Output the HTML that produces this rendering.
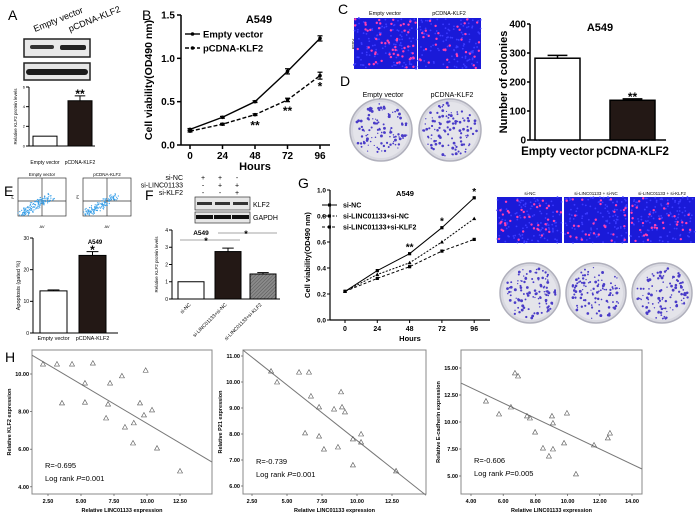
<!DOCTYPE html>
<html><head><meta charset="utf-8"><style>
html,body{margin:0;padding:0;background:#fff;}
svg{display:block;font-family:"Liberation Sans",Arial,sans-serif;}
</style></head><body>
<svg id="fig" width="700" height="516" viewBox="0 0 700 516" xmlns="http://www.w3.org/2000/svg">
<g id="root"></g>
</svg>
<script>
// ---------- DATA ----------
const hoursB = [0, 24, 48, 72, 96];
const emptyVectorB = [0.18, 0.32, 0.50, 0.85, 1.23];
const emptyVectorErrB = [0.01, 0.01, 0.01, 0.03, 0.03];
const pcdnaB = [0.16, 0.24, 0.35, 0.52, 0.80];
const pcdnaErrB = [0.01, 0.01, 0.01, 0.02, 0.04];
const ticksB = [0, 0.5, 1.0, 1.5];
const tickLabelsB = ["0.0", "0.5", "1.0", "1.5"];

const catsA = ["Empty vector", "pCDNA-KLF2"];
const valsA = [1, 4.6];
const errA = [0, 0.5];
const ticksA = [0, 2, 4, 6];

const catsCol = ["Empty vector", "pCDNA-KLF2"];
const valsCol = [282, 137];
const errCol = [10, 5];
const ticksCol = [0, 100, 200, 300, 400];

const catsE = ["Empty vector", "pCDNA-KLF2"];
const valsE = [13.3, 24.5];
const errE = [0.3, 1.2];
const ticksE = [0, 10, 20, 30];

const catsF = ["si-NC", "si-LINC01133+si-NC", "si-LINC01133+si-KLF2"];
const valsF = [1.0, 2.75, 1.45];
const errF = [0, 0.2, 0.08];
const ticksF = [0, 1, 2, 3, 4];

const hoursG = [0, 24, 48, 72, 96];
const siNC_G = [0.22, 0.38, 0.51, 0.71, 0.94];
const lincNC_G = [0.22, 0.35, 0.44, 0.60, 0.78];
const lincKLF2_G = [0.22, 0.32, 0.41, 0.53, 0.62];
const ticksG = [0, 0.2, 0.4, 0.6, 0.8, 1.0];
const tickLabelsG = ["0.0", "0.2", "0.4", "0.6", "0.8", "1.0"];

const h1x = [2.12,3.18,4.32,5.9,5.3,7.2,8.1,9.9,3.56,5.3,7.05,6.9,9.47,9.77,10.38,8.33,9.0,8.94,10.76,12.5];
const h1y = [10.53,10.53,10.53,10.58,9.52,9.52,9.9,10.2,8.46,8.5,8.4,7.66,8.46,7.82,8.09,7.18,7.4,6.33,6.06,4.84];
const h1fit = [11.54, -0.417];
const h1xt = [2.5, 5, 7.5, 10, 12.5];
const h1yt = [4, 6, 8, 10];

const h2x = [3.86,4.29,5.86,6.57,6.71,7.29,8.86,8.36,8.93,9.14,6.29,7.29,7.64,8.64,9.71,10.29,10.29,9.71,12.79];
const h2y = [10.42,10.0,10.38,10.38,9.46,9.04,9.62,8.96,9.04,8.85,8.04,7.92,7.42,7.5,7.81,8.0,7.69,6.81,6.58];
const h2fit = [12.02, -0.427];
const h2xt = [2.5, 5, 7.5, 10, 12.5];
const h2yt = [6, 7, 8, 9, 10, 11];

const h3x = [4.93,5.74,6.48,7.48,7.66,7.98,9.03,9.09,9.96,8.47,9.09,8.84,9.78,10.52,11.64,12.5,12.63,6.73,6.92];
const h3y = [11.94,10.74,11.39,10.56,10.37,9.07,10.56,9.91,10.83,7.59,7.5,6.85,8.06,5.19,7.87,8.52,8.98,14.54,14.26];
const h3fit = [16.0, -0.708];
const h3xt = [4, 6, 8, 10, 12, 14];
const h3yt = [5, 7.5, 10, 12.5, 15];

// ---------- HELPERS ----------
const NS = "http://www.w3.org/2000/svg";
const root = document.getElementById('root');
function mk(tag, attrs, parent) {
  const e = document.createElementNS(NS, tag);
  for (const k in attrs) e.setAttribute(k, attrs[k]);
  (parent || root).appendChild(e);
  return e;
}
function txt(x, y, s, size, opts, parent) {
  const o = opts || {};
  const t = mk('text', {x: x, y: y, 'font-size': size, 'text-anchor': o.anchor || 'start', 'font-weight': o.bold ? 'bold' : 'normal', fill: o.fill || '#000'}, parent);
  if (o.rot) t.setAttribute('transform', 'rotate(' + o.rot + ' ' + x + ' ' + y + ')');
  if (o.italic) t.setAttribute('font-style', 'italic');
  t.textContent = s;
  return t;
}
function grp(name) {
  const g = mk('g', {});
  
  
  return g;
}
let seed = 7;
function prng() { seed = (seed * 16807) % 2147483647; return seed / 2147483647; }

[["A",8,20],["B",142,20],["C",338,14],["D",340,86],["E",4,196],["F",145,200],["G",298,188],["H",5,362]].forEach(p => {
  const t = txt(p[1], p[2], p[0], 14, {});
  
  
});

function barChart(cfg) {
  const g = grp(cfg.name);
  const y = v => cfg.y0 - (v - 0) / cfg.vmax * (cfg.y0 - cfg.ytop);
  mk('line', {x1: cfg.ax, y1: cfg.ytop, x2: cfg.ax, y2: cfg.y0, stroke: '#000', 'stroke-width': cfg.sw}, g);
  mk('line', {x1: cfg.ax, y1: cfg.y0, x2: cfg.axEnd, y2: cfg.y0, stroke: '#000', 'stroke-width': cfg.sw}, g);
  cfg.ticks.forEach(t => {
    mk('line', {x1: cfg.ax - 3, y1: y(t), x2: cfg.ax, y2: y(t), stroke: '#000', 'stroke-width': cfg.sw}, g);
    const l = txt(cfg.ax - 4, y(t) + cfg.fs * 0.35, String(t), cfg.fs, {anchor: 'end', bold: cfg.bold}, g);
    
    
  });
  cfg.vals.forEach((v, i) => {
    const x0 = cfg.bx[i], w = cfg.bw;
    const r = mk('rect', {x: x0, y: y(v), width: w, height: cfg.y0 - y(v), fill: cfg.fills[i], stroke: '#000', 'stroke-width': cfg.sw}, g);
    
    
    const e = cfg.errs[i];
    if (e > 0) {
      const cx = x0 + w / 2;
      mk('line', {x1: cx, y1: y(v), x2: cx, y2: y(v + e), stroke: '#000', 'stroke-width': cfg.sw}, g);
      mk('line', {x1: cx - w * 0.22, y1: y(v + e), x2: cx + w * 0.22, y2: y(v + e), stroke: '#000', 'stroke-width': cfg.sw}, g);
    }
    if (cfg.stars && cfg.stars[i]) {
      const s = txt(x0 + w / 2, y(v + e) - 2 + cfg.starFs * 0.35, cfg.stars[i], cfg.starFs, {anchor: 'middle', bold: true}, g);
      
      
    }
    if (!cfg.rotLabels) {
      const l = txt(x0 + w / 2, cfg.y0 + cfg.labDy, cfg.cats[i], cfg.labFs, {anchor: 'middle', bold: cfg.bold}, g);
      
      
    }
  });
  if (cfg.title) {
    const t = txt(cfg.title[0], cfg.title[1], 'A549', cfg.title[2], {anchor: 'middle', bold: true}, g);
    
    
  }
  if (cfg.ylab) {
    const t = txt(cfg.ylab[0], (cfg.ytop + cfg.y0) / 2, cfg.ylab[1], cfg.ylab[2], {anchor: 'middle', bold: cfg.bold, rot: -90}, g);
    
    
  }
  return {g: g, y: y};
}

// ---------- PANEL A ----------
(function(){
  const g = grp('panel-a-western-blot');
  txt(35, 32, 'Empty vector', 9, {rot: -22}, g);
  txt(70, 32, 'pCDNA-KLF2', 9, {rot: -22}, g);
  mk('rect', {x: 24, y: 39, width: 66, height: 18, fill: '#e9e9e9', stroke: '#222', 'stroke-width': 1.5}, g);
  mk('rect', {x: 30, y: 45, width: 24, height: 4, fill: '#333', rx: 2}, g);
  mk('rect', {x: 60, y: 45, width: 26, height: 5, fill: '#222', rx: 2}, g);
  mk('rect', {x: 24, y: 63, width: 66, height: 17, fill: '#e6e6e6', stroke: '#222', 'stroke-width': 1.5}, g);
  mk('rect', {x: 26, y: 69, width: 62, height: 6, fill: '#1a1a1a', rx: 3}, g);
  barChart({name: 'panel-a-bar-chart', ax: 29, ytop: 87, y0: 146, axEnd: 95, vmax: 6, ticks: ticksA, vals: valsA, errs: errA, cats: catsA,
    bx: [33, 68], bw: 24, fills: ['#fff', '#231815'], sw: 1, fs: 4, labFs: 5, labDy: 18, bold: false, stars: ['', '**'], starFs: 12,
    ylab: [17, 'Relative KLF2 protein levels', 4.5]});
})();

// ---------- PANEL B ----------
(function(){
  const g = grp('panel-b-line-chart');
  const x = h => 190 + h / 24 * 32.5;
  const y = v => 145 - v / 1.5 * 130;
  mk('line', {x1: 181, y1: 15, x2: 181, y2: 145, stroke: '#000', 'stroke-width': 1.5}, g);
  mk('line', {x1: 181, y1: 145, x2: 330, y2: 145, stroke: '#000', 'stroke-width': 1.5}, g);
  ticksB.forEach((t, i) => {
    mk('line', {x1: 177, y1: y(t), x2: 181, y2: y(t), stroke: '#000', 'stroke-width': 1.5}, g);
    const l = txt(175, y(t) + 3.5, tickLabelsB[i], 10, {anchor: 'end', bold: true}, g);
    
    
  });
  hoursB.forEach(h => {
    mk('line', {x1: x(h), y1: 145, x2: x(h), y2: 149, stroke: '#000', 'stroke-width': 1.5}, g);
    const l = txt(x(h), 159, String(h), 10, {anchor: 'middle', bold: true}, g);
    
    
  });
  const xt = txt(255, 170, 'Hours', 11, {anchor: 'middle', bold: true}, g);
  
  
  const yt = txt(152, 80, 'Cell viability(OD490 nm)', 10.5, {anchor: 'middle', bold: true, rot: -90}, g);
  
  
  const tt = txt(259, 23, 'A549', 11, {anchor: 'middle', bold: true}, g);
  
  
  const series = [[emptyVectorB, emptyVectorErrB, '', 'empty-vector'], [pcdnaB, pcdnaErrB, '4,2', 'pcdna-klf2']];
  series.forEach(s => {
    const pts = hoursB.map((h, i) => x(h) + ',' + y(s[0][i])).join(' ');
    const pl = mk('polyline', {points: pts, fill: 'none', stroke: '#000', 'stroke-width': 1.4, 'stroke-dasharray': s[2]}, g);
    
    
    hoursB.forEach((h, i) => {
      const c = mk('circle', {cx: x(h), cy: y(s[0][i]), r: 1.8, fill: '#000'}, g);
      
      
      const e = s[1][i];
      mk('line', {x1: x(h), y1: y(s[0][i] - e), x2: x(h), y2: y(s[0][i] + e), stroke: '#000', 'stroke-width': 1.2}, g);
      mk('line', {x1: x(h) - 2.5, y1: y(s[0][i] + e), x2: x(h) + 2.5, y2: y(s[0][i] + e), stroke: '#000', 'stroke-width': 1.2}, g);
      mk('line', {x1: x(h) - 2.5, y1: y(s[0][i] - e), x2: x(h) + 2.5, y2: y(s[0][i] - e), stroke: '#000', 'stroke-width': 1.2}, g);
    });
  });
  const stars = [['**', 48, 0.35], ['**', 72, 0.52], ['*', 96, 0.80]];
  stars.forEach(s => {
    const t = txt(x(s[1]), y(s[2]) + 15, s[0], 12, {anchor: 'middle', bold: true}, g);
    
    
  });
  const lg = grp('legend-b');
  mk('line', {x1: 185, y1: 34, x2: 200, y2: 34, stroke: '#000', 'stroke-width': 1.4}, lg);
  mk('circle', {cx: 192.5, cy: 34, r: 1.8}, lg);
  txt(203, 37.5, 'Empty vector', 9.5, {bold: true}, lg);
  mk('line', {x1: 185, y1: 48, x2: 200, y2: 48, stroke: '#000', 'stroke-width': 1.4, 'stroke-dasharray': '4,2'}, lg);
  mk('circle', {cx: 192.5, cy: 48, r: 1.8}, lg);
  txt(203, 51.5, 'pCDNA-KLF2', 9.5, {bold: true}, lg);
})();

function fluoro(x0, y0, w, h, n, name) {
  const g = grp(name);
  mk('rect', {x: x0, y: y0, width: w, height: h, fill: '#1a1ad8'}, g);
  for (let i = 0; i < 120; i++) mk('circle', {cx: x0 + prng() * w, cy: y0 + prng() * h, r: 0.9, fill: '#3c3cff'}, g);
  for (let i = 0; i < n; i++) mk('circle', {cx: x0 + 1 + prng() * (w - 2), cy: y0 + 1 + prng() * (h - 2), r: 1.2, fill: '#ff3fb0'}, g);
}
function dish(cx, cy, r, name) {
  const g = grp(name);
  mk('circle', {cx: cx, cy: cy, r: r, fill: '#d8d8e0', stroke: '#b0b0bc', 'stroke-width': 1.5}, g);
  mk('circle', {cx: cx, cy: cy, r: r - 3, fill: '#e4e4ea'}, g);
  for (let i = 0; i < 110; i++) {
    const a = prng() * 6.283, d = Math.sqrt(prng()) * (r - 4);
    mk('circle', {cx: cx + Math.cos(a) * d, cy: cy + Math.sin(a) * d, r: 0.6 + prng() * 0.9, fill: '#4a3cc8'}, g);
  }
}
txt(385, 15, 'Empty vector', 5.5, {anchor: 'middle'});
txt(449, 15, 'pCDNA-KLF2', 5.5, {anchor: 'middle'});
txt(352, 44, 'A549', 4.5, {anchor: 'middle', rot: 90});
fluoro(354, 18, 63, 51, 60, 'edu-image-empty-vector');
fluoro(418, 18, 63, 51, 35, 'edu-image-pcdna-klf2');
txt(383, 97, 'Empty vector', 7, {anchor: 'middle'});
txt(452, 97, 'pCDNA-KLF2', 7, {anchor: 'middle'});
dish(381, 130, 31, 'colony-dish-empty-vector');
dish(450, 130, 31, 'colony-dish-pcdna-klf2');

barChart({name: 'colony-count-bar-chart', ax: 530, ytop: 24, y0: 140, axEnd: 666, vmax: 400, ticks: ticksCol, vals: valsCol, errs: errCol, cats: catsCol,
  bx: [535, 610], bw: 45, fills: ['#fff', '#231815'], sw: 1.5, fs: 10, labFs: 11.5, labDy: 15, bold: true, stars: ['', '**'], starFs: 12,
  title: [600, 31, 11], ylab: [507, 'Number of colonies', 11]});

// ---------- PANEL E ----------
(function(){
  ['Empty vector', 'pCDNA-KLF2'].forEach((lab, k) => {
    const g = grp('flow-plot-' + (k ? 'pcdna-klf2' : 'empty-vector'));
    const x0 = k ? 83 : 18;
    txt(x0 + 24, 176, lab, 4.5, {anchor: 'middle'}, g);
    mk('rect', {x: x0, y: 178, width: 48, height: 38, fill: '#fff', stroke: '#333', 'stroke-width': 0.7}, g);
    mk('line', {x1: x0 + 24, y1: 178, x2: x0 + 24, y2: 216, stroke: '#333', 'stroke-width': 0.7}, g);
    mk('line', {x1: x0, y1: 201, x2: x0 + 48, y2: 201, stroke: '#333', 'stroke-width': 0.7}, g);
    for (let i = 0; i < 160; i++) {
      const t = prng();
      const px = x0 + 3 + t * 30 + (prng() - 0.5) * 8;
      const py = 214 - t * 18 + (prng() - 0.5) * 7;
      mk('circle', {cx: px, cy: Math.min(215, py), r: 0.6, fill: '#3aa0e8'}, g);
    }
    txt(x0 + 24, 228, 'AV', 4, {anchor: 'middle'}, g);
    txt(x0 - 4, 197, 'PI', 4, {anchor: 'middle', rot: -90}, g);
  });
  barChart({name: 'panel-e-apoptosis-bar-chart', ax: 33, ytop: 238, y0: 333, axEnd: 118, vmax: 30, ticks: ticksE, vals: valsE, errs: errE, cats: catsE,
    bx: [40, 79], bw: 27, fills: ['#fff', '#231815'], sw: 1, fs: 5, labFs: 5.5, labDy: 7, bold: false, stars: ['', '*'], starFs: 12,
    title: [95, 244, 6], ylab: [20, 'Apoptosis (gated %)', 5.5]});
})();

// ---------- PANEL F ----------
(function(){
  const g = grp('panel-f-blot');
  const rows = [['si-NC', ['+', '+', '-']], ['si-LINC01133', ['-', '+', '+']], ['si-KLF2', ['-', '-', '+']]];
  rows.forEach((r, i) => {
    txt(183, 180 + i * 7.5, r[0], 7, {anchor: 'end'}, g);
    r[1].forEach((s, j) => txt(203 + j * 17, 180 + i * 7.5, s, 7, {anchor: 'middle'}, g));
  });
  mk('rect', {x: 195, y: 197, width: 55, height: 13, fill: '#e6e6e6', stroke: '#333', 'stroke-width': 0.7}, g);
  for (let j = 0; j < 3; j++) mk('rect', {x: 197 + j * 18, y: 202, width: 15, height: 3, fill: '#333'}, g);
  mk('rect', {x: 195, y: 212, width: 55, height: 11, fill: '#e6e6e6', stroke: '#333', 'stroke-width': 0.7}, g);
  for (let j = 0; j < 3; j++) mk('rect', {x: 196 + j * 18, y: 215, width: 17, height: 4, fill: '#111'}, g);
  txt(253, 207, 'KLF2', 7, {}, g);
  txt(253, 220, 'GAPDH', 7, {}, g);
  const defs = mk('defs', {});
  const pat = mk('pattern', {id: 'hatch', width: 2.5, height: 2.5, patternUnits: 'userSpaceOnUse', patternTransform: 'rotate(45)'}, defs);
  mk('rect', {width: 2.5, height: 2.5, fill: '#8a8a8a'}, pat);
  mk('line', {x1: 0, y1: 0, x2: 0, y2: 2.5, stroke: '#555', 'stroke-width': 1}, pat);
  const c = barChart({name: 'panel-f-bar-chart', ax: 172, ytop: 230, y0: 299, axEnd: 280, vmax: 4, ticks: ticksF, vals: valsF, errs: errF, cats: catsF,
    bx: [178, 215, 250], bw: 26, fills: ['#fff', '#231815', 'url(#hatch)'], sw: 1, fs: 5, labFs: 5, labDy: 7, bold: false, rotLabels: true,
    title: [201, 235, 6.5], ylab: [158, 'Relative KLF2 protein levels', 4.5]});
  catsF.forEach((s, i) => {
    const t = txt(178 + 13 + i * 36 + (i == 2 ? -1 : 0), 305, s, 5, {anchor: 'end', rot: -45}, c.g);
    
    
  });
  mk('line', {x1: 180, y1: 240, x2: 240, y2: 240, stroke: '#888', 'stroke-width': 0.7}, c.g);
  mk('line', {x1: 218, y1: 233, x2: 277, y2: 233, stroke: '#888', 'stroke-width': 0.7}, c.g);
  txt(206, 244, '*', 9, {anchor: 'middle', bold: true}, c.g);
  txt(246, 237, '*', 9, {anchor: 'middle', bold: true}, c.g);
})();

// ---------- PANEL G ----------
(function(){
  const g = grp('panel-g-line-chart');
  const AX = 330;
  const x = h => 345 + h / 24 * 32.3;
  const y = v => 320 - v * 130;
  mk('line', {x1: AX, y1: 190, x2: AX, y2: 320, stroke: '#000', 'stroke-width': 1.2}, g);
  mk('line', {x1: AX, y1: 320, x2: 490, y2: 320, stroke: '#000', 'stroke-width': 1.2}, g);
  ticksG.forEach((t, i) => {
    mk('line', {x1: AX - 3, y1: y(t), x2: AX, y2: y(t), stroke: '#000', 'stroke-width': 1}, g);
    const l = txt(AX - 4, y(t) + 2.5, tickLabelsG[i], 6.5, {anchor: 'end', bold: true}, g);
    
    
  });
  hoursG.forEach(h => {
    mk('line', {x1: x(h), y1: 320, x2: x(h), y2: 323, stroke: '#000', 'stroke-width': 1}, g);
    const l = txt(x(h), 331, String(h), 7, {anchor: 'middle', bold: true}, g);
    
    
  });
  const xt = txt(410, 341, 'Hours', 7.5, {anchor: 'middle', bold: true}, g);
  
  
  const yt = txt(310, 255, 'Cell viability(OD490 nm)', 7.5, {anchor: 'middle', bold: true, rot: -90}, g);
  
  
  const tt = txt(405, 196, 'A549', 7.5, {anchor: 'middle', bold: true}, g);
  
  
  const series = [[siNC_G, '', 'si-NC', 'sq'], [lincNC_G, '2,1.5', 'si-LINC01133+si-NC', 'tri'], [lincKLF2_G, '3,2', 'si-LINC01133+si-KLF2', 'sq']];
  series.forEach((s, k) => {
    const pts = hoursG.map((h, i) => x(h) + ',' + y(s[0][i])).join(' ');
    const pl = mk('polyline', {points: pts, fill: 'none', stroke: '#000', 'stroke-width': 1, 'stroke-dasharray': s[1]}, g);
    
    
    hoursG.forEach((h, i) => {
      const px = x(h), py = y(s[0][i]);
      const m = s[3] == 'tri' ? mk('polygon', {points: (px) + ',' + (py - 2) + ' ' + (px - 2) + ',' + (py + 1.5) + ' ' + (px + 2) + ',' + (py + 1.5), fill: '#000'}, g)
                              : mk('rect', {x: px - 1.6, y: py - 1.6, width: 3.2, height: 3.2, fill: '#000'}, g);
      
      
    });
    const ly = 205 + k * 11;
    mk('line', {x1: 322, y1: ly, x2: 337, y2: ly, stroke: '#000', 'stroke-width': 1, 'stroke-dasharray': s[1]}, g);
    mk('rect', {x: 328, y: ly - 1.5, width: 3, height: 3, fill: '#000'}, g);
    txt(343, ly + 2.5, s[2], 7, {bold: true}, g);
  });
  [['**', 48, 0.51], ['*', 72, 0.71], ['*', 96, 0.94]].forEach(s => {
    const t = txt(x(s[1]), y(s[2]) - 3, s[0], 10, {anchor: 'middle', bold: true}, g);
    
    
  });
})();
txt(530, 195, 'si-NC', 4.5, {anchor: 'middle'});
txt(596, 195, 'si-LINC01133 + si-NC', 4.5, {anchor: 'middle'});
txt(662, 195, 'si-LINC01133 + si-KLF2', 4.5, {anchor: 'middle'});
fluoro(497, 197, 65, 46, 40, 'edu-image-si-nc');
fluoro(564, 197, 64, 46, 30, 'edu-image-si-linc-si-nc');
fluoro(630, 197, 65, 46, 35, 'edu-image-si-linc-si-klf2');
dish(530, 293, 30, 'colony-dish-si-nc');
dish(596, 293, 30, 'colony-dish-si-linc-si-nc');
dish(662, 293, 30, 'colony-dish-si-linc-si-klf2');

// ---------- PANEL H scatter ----------
function scatter(cfg) {
  const g = grp(cfg.name);
  const x = v => cfg.xpx[0] + (v - cfg.xv[0]) * cfg.xs;
  const y = v => cfg.ypx[0] - (v - cfg.yv[0]) * cfg.ys;
  mk('rect', {x: cfg.L, y: cfg.T, width: cfg.R - cfg.L, height: cfg.B - cfg.T, fill: '#fff', stroke: '#888', 'stroke-width': 1}, g);
  cfg.xt.forEach(t => {
    mk('line', {x1: x(t), y1: cfg.B, x2: x(t), y2: cfg.B + 2, stroke: '#555', 'stroke-width': 0.7}, g);
    const l = txt(x(t), cfg.B + 9, t.toFixed(2), 5.5, {anchor: 'middle', bold: true}, g);
    
    
  });
  cfg.yt.forEach(t => {
    mk('line', {x1: cfg.L - 2, y1: y(t), x2: cfg.L, y2: y(t), stroke: '#555', 'stroke-width': 0.7}, g);
    const l = txt(cfg.L - 3, y(t) + 2, t.toFixed(2), 5.5, {anchor: 'end', bold: true}, g);
    
    
  });
  const xa = txt((cfg.L + cfg.R) / 2, 512, 'Relative LINC01133 expression', 5.5, {anchor: 'middle', bold: true}, g);
  
  
  const ya = txt(cfg.L - 21, (cfg.T + cfg.B) / 2, cfg.ylab, 5.5, {anchor: 'middle', bold: true, rot: -90}, g);
  
  
  const xl = cfg.xv[0] + (cfg.L - cfg.xpx[0]) / cfg.xs, xr = cfg.xv[0] + (cfg.R - cfg.xpx[0]) / cfg.xs;
  const fl = mk('line', {x1: cfg.L, y1: y(cfg.fit[0] + cfg.fit[1] * xl), x2: cfg.R, y2: y(cfg.fit[0] + cfg.fit[1] * xr), stroke: '#777', 'stroke-width': 1}, g);
  
  
  cfg.px.forEach((v, i) => {
    const cx = x(v), cy = y(cfg.py[i]);
    const p = mk('polygon', {points: cx + ',' + (cy - 2.5) + ' ' + (cx - 2.5) + ',' + (cy + 2) + ' ' + (cx + 2.5) + ',' + (cy + 2), fill: 'none', stroke: '#555', 'stroke-width': 0.6}, g);
    
    
  });
  txt(cfg.L + 13, cfg.rY, cfg.r, 7.5, {}, g);
  const lr = txt(cfg.L + 13, cfg.rY + 13, 'Log rank ', 7.5, {}, g);
  const ts1 = document.createElementNS(NS, 'tspan'); ts1.setAttribute('font-style', 'italic'); ts1.textContent = 'P'; lr.appendChild(ts1);
  const ts2 = document.createElementNS(NS, 'tspan'); ts2.textContent = '=' + cfg.p; lr.appendChild(ts2);
}
scatter({name: 'scatter-klf2', L: 32, R: 212, T: 350, B: 494, xpx: [48], xv: [2.5], xs: 13.2, ypx: [374], yv: [10], ys: 18.8,
  xt: h1xt, yt: h1yt, px: h1x, py: h1y, fit: h1fit, ylab: 'Relative KLF2 expression', r: 'R=-0.695', p: '0.001', rY: 468});
scatter({name: 'scatter-p21', L: 243, R: 426, T: 350, B: 494, xpx: [252], xv: [2.5], xs: 14, ypx: [356], yv: [11], ys: 26,
  xt: h2xt, yt: h2yt, px: h2x, py: h2y, fit: h2fit, ylab: 'Relative P21 expression', r: 'R=-0.739', p: '0.001', rY: 464});
scatter({name: 'scatter-e-cadherin', L: 461, R: 642, T: 350, B: 494, xpx: [471], xv: [4], xs: 16.1, ypx: [368], yv: [15], ys: 10.8,
  xt: h3xt, yt: h3yt, px: h3x, py: h3y, fit: h3fit, ylab: 'Relative E-cadherin expression', r: 'R=-0.606', p: '0.005', rY: 463});
</script>
</body></html>
